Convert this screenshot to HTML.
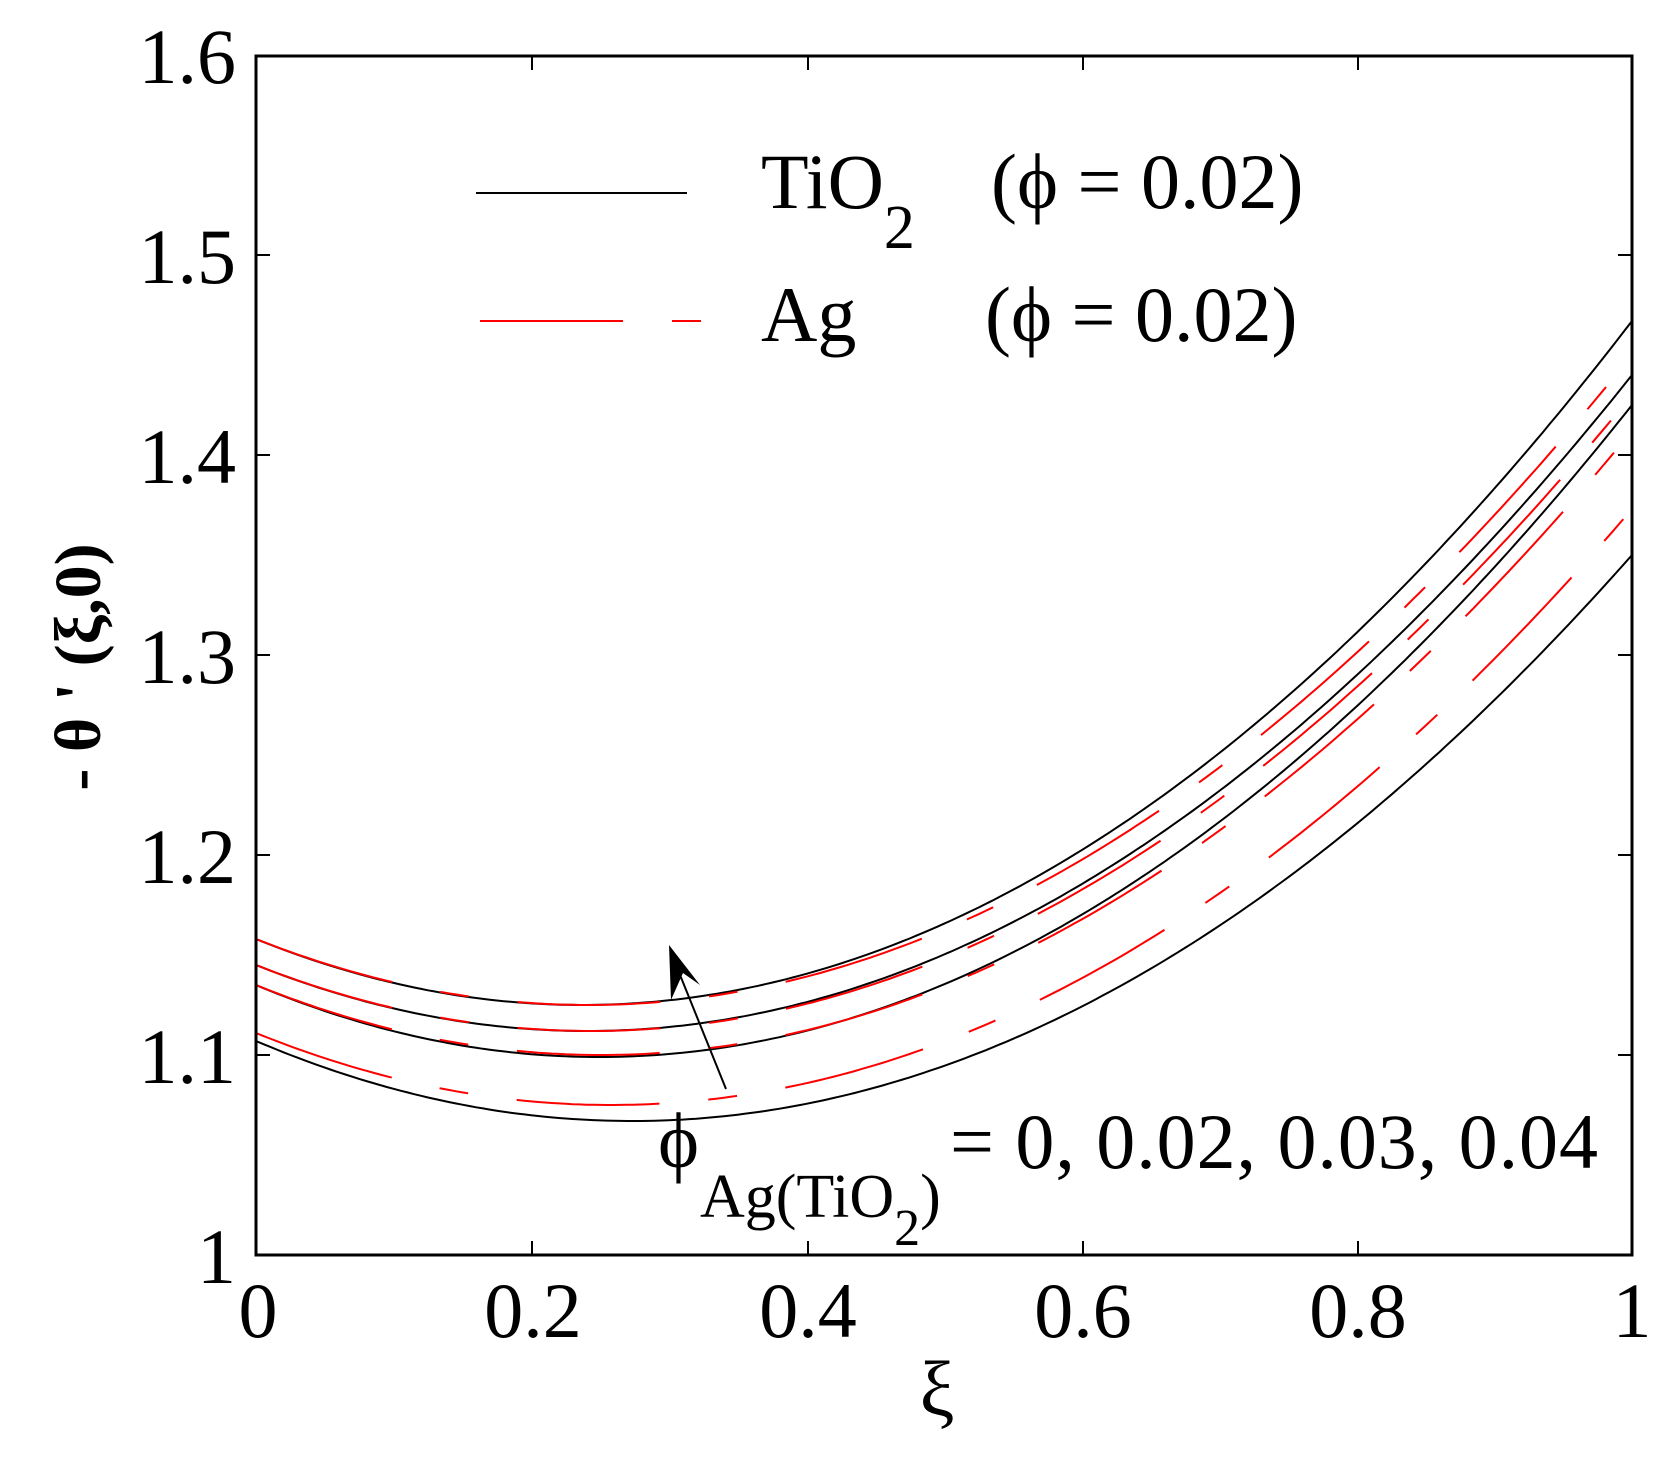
<!DOCTYPE html>
<html><head><meta charset="utf-8"><style>
html,body{margin:0;padding:0;background:#fff;}
svg{display:block;}
text{font-family:"Liberation Serif",serif;fill:#000;}
</style></head><body>
<svg id="s" width="1678" height="1468" viewBox="0 0 1678 1468" xmlns="http://www.w3.org/2000/svg">
<rect width="1678" height="1468" fill="#fff"/>
<g id="curves"></g>
<rect x="256" y="56" width="1376" height="1199" fill="none" stroke="#000" stroke-width="3"/>
<g stroke="#000" stroke-width="2">
<line x1="532" y1="1255" x2="532" y2="1241"/><line x1="808" y1="1255" x2="808" y2="1241"/><line x1="1083" y1="1255" x2="1083" y2="1241"/><line x1="1358" y1="1255" x2="1358" y2="1241"/>
<line x1="532" y1="56" x2="532" y2="70"/><line x1="808" y1="56" x2="808" y2="70"/><line x1="1083" y1="56" x2="1083" y2="70"/><line x1="1358" y1="56" x2="1358" y2="70"/>
<line x1="256" y1="1055" x2="270" y2="1055"/><line x1="256" y1="855" x2="270" y2="855"/><line x1="256" y1="655" x2="270" y2="655"/><line x1="256" y1="455" x2="270" y2="455"/><line x1="256" y1="255" x2="270" y2="255"/>
<line x1="1632" y1="1055" x2="1618" y2="1055"/><line x1="1632" y1="855" x2="1618" y2="855"/><line x1="1632" y1="655" x2="1618" y2="655"/><line x1="1632" y1="455" x2="1618" y2="455"/><line x1="1632" y1="255" x2="1618" y2="255"/>
</g>
<g font-size="78" text-anchor="end">
<text x="236" y="1283">1</text><text x="236" y="1083">1.1</text><text x="236" y="883">1.2</text><text x="236" y="683">1.3</text><text x="236" y="483">1.4</text><text x="236" y="283">1.5</text><text x="236" y="83">1.6</text>
</g>
<g font-size="78" text-anchor="middle">
<text x="258" y="1337">0</text><text x="533" y="1337">0.2</text><text x="808" y="1337">0.4</text><text x="1083" y="1337">0.6</text><text x="1358" y="1337">0.8</text><text x="1632" y="1337">1</text>
<text x="937" y="1415">ξ</text>
</g>
<text transform="translate(100,667) rotate(-90)" font-size="66" font-weight="bold" text-anchor="middle">- θ ' (ξ,0)</text>
<line x1="476" y1="193" x2="687" y2="193" stroke="#000" stroke-width="2"/>
<text x="761" y="208" font-size="78">TiO<tspan font-size="62" dy="40">2</tspan></text>
<text x="991" y="208" font-size="78">(ϕ = 0.02)</text>
<line x1="480" y1="321" x2="703" y2="321" stroke="#f00" stroke-width="2" stroke-dasharray="143 49 29 49"/>
<text x="761" y="341" font-size="78">Ag</text>
<text x="985" y="341" font-size="78">(ϕ = 0.02)</text>
<line x1="726" y1="1089" x2="676" y2="965" stroke="#000" stroke-width="2"/>
<polygon points="669,945 700,985 683,973 671,1000" fill="#000"/>
<text x="658" y="1167" font-size="78">ϕ</text>
<text x="700" y="1217" font-size="62">Ag(TiO<tspan font-size="52" dy="28">2</tspan><tspan dy="-28">)</tspan></text>
<text x="950" y="1168" font-size="78" textLength="648" lengthAdjust="spacing">= 0, 0.02, 0.03, 0.04</text>
</svg>
<script>
(function(){
var X=function(x){return 256+x*1376;},Y=function(v){return 1255-(v-1)*2000;};
function path(s,m,e){
 var r=Math.sqrt((e-m)/(s-m)); var x0=1/(1+r); var k=(s-m)/(x0*x0);
 var d="";for(var i=0;i<=200;i++){var x=i/200;var v=m+k*(x-x0)*(x-x0);d+=(i?"L":"M")+X(x).toFixed(1)+","+Y(v).toFixed(1);}return d;}
var blk=[[1.158,1.125,1.467],[1.145,1.112,1.440],[1.135,1.099,1.425],[1.107,1.067,1.350]];
var red=[[1.158,1.125,1.450],[1.145,1.112,1.430],[1.135,1.100,1.412],[1.111,1.075,1.373]];
var g=document.getElementById("curves"),h="";
blk.forEach(function(c){h+='<path d="'+path(c[0],c[1],c[2])+'" fill="none" stroke="#000" stroke-width="2"/>';});
red.forEach(function(c){h+='<path d="'+path(c[0],c[1],c[2])+'" fill="none" stroke="#f00" stroke-width="2" stroke-dasharray="143 49 29 49"/>';});
g.innerHTML=h;
})();
</script>
</body></html>
